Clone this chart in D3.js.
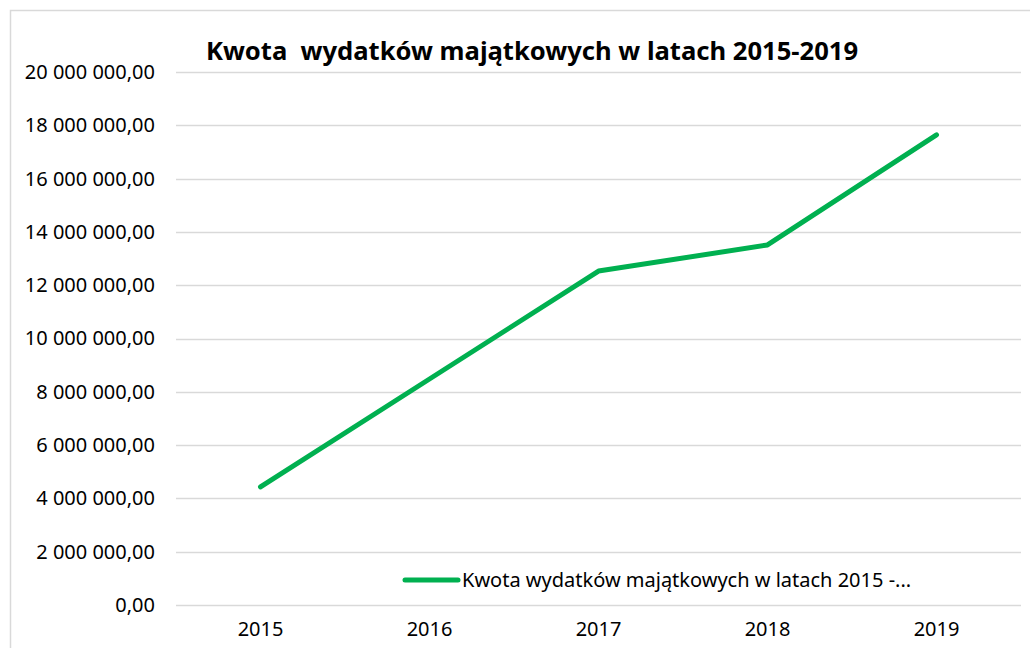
<!DOCTYPE html>
<html>
<head>
<meta charset="utf-8">
<script src="https://cdn.jsdelivr.net/npm/d3@7"></script>
<style>
  body { margin: 0; background: #fff; }
  text { font-family: "Noto Sans", "Open Sans", sans-serif; fill: #000; }
</style>
</head>
<body>
<div id="chart"></div>
<script>
// data
var years = ["2015", "2016", "2017", "2018", "2019"];
var amounts = [4430000, 8480000, 12530000, 13510000, 17640000];
var yTicks = [0, 2e6, 4e6, 6e6, 8e6, 10e6, 12e6, 14e6, 16e6, 18e6, 20e6];
var seriesName = "Kwota wydatków majątkowych w latach 2015 -...";
var title = "Kwota  wydatków majątkowych w latach 2015-2019";

var svgWidth = 1030, svgHeight = 648;
var margin = { top: 72, right: 9, bottom: 43, left: 176 };
var width = svgWidth - margin.left - margin.right;
var height = svgHeight - margin.top - margin.bottom;

var svg = d3.select("#chart").append("svg")
  .attr("width", svgWidth)
  .attr("height", svgHeight);

// chart border
svg.append("rect")
  .attr("x", 10.5).attr("y", 10.5)
  .attr("width", 1030).attr("height", 700)
  .attr("fill", "none")
  .attr("stroke", "#d9d9d9")
  .attr("stroke-width", 1.5);

var chartGroup = svg.append("g")
  .attr("transform", `translate(${margin.left}, ${margin.top})`);

var x = d3.scaleBand().domain(years).range([0, width]);
var y = d3.scaleLinear().domain([0, 20e6]).range([height, 0]);

// polish number format: "20 000 000,00"
var fmt = function(v) {
  var s = d3.format(",.2f")(v);
  return s.replace(/,/g, " ").replace(".", ",");
};

// gridlines
chartGroup.append("g")
  .selectAll("line")
  .data(yTicks)
  .enter()
  .append("line")
  .attr("x1", 0).attr("x2", width)
  .attr("y1", d => Math.round(y(d)) + 0.5)
  .attr("y2", d => Math.round(y(d)) + 0.5)
  .attr("stroke", "#d9d9d9")
  .attr("stroke-width", 1.5);

// y axis labels
var leftAxis = d3.axisLeft(y).tickValues(yTicks).tickFormat(fmt).tickSize(0).tickPadding(21);
var yAxis = chartGroup.append("g").call(leftAxis);
yAxis.select(".domain").remove();
yAxis.selectAll("text").style("font-size", "20px");

// x axis labels
var bottomAxis = d3.axisBottom(x).tickSize(0).tickPadding(17);
var xAxis = chartGroup.append("g")
  .attr("transform", `translate(0, ${height})`)
  .call(bottomAxis);
xAxis.select(".domain").remove();
xAxis.selectAll("text").style("font-size", "20px");

// the line
var line = d3.line()
  .x((d, i) => x(years[i]) + x.bandwidth() / 2)
  .y(d => y(d));

chartGroup.append("path")
  .datum(amounts)
  .attr("d", line)
  .attr("fill", "none")
  .attr("stroke", "#00b050")
  .attr("stroke-width", 5)
  .attr("stroke-linecap", "round")
  .attr("stroke-linejoin", "round");

// title
svg.append("text")
  .attr("x", 532)
  .attr("y", 60)
  .attr("text-anchor", "middle")
  .style("font-size", "25.6px")
  .style("font-weight", "bold")
  .style("white-space", "pre")
  .text(title);

// legend
var legend = svg.append("g").attr("transform", "translate(403, 580)");
legend.append("line")
  .attr("x1", 2).attr("x2", 55)
  .attr("y1", 0).attr("y2", 0)
  .attr("stroke", "#00b050")
  .attr("stroke-width", 5)
  .attr("stroke-linecap", "round");
legend.append("text")
  .attr("x", 59)
  .attr("y", 7)
  .style("font-size", "20px")
  .text(seriesName);
</script>
</body>
</html>
